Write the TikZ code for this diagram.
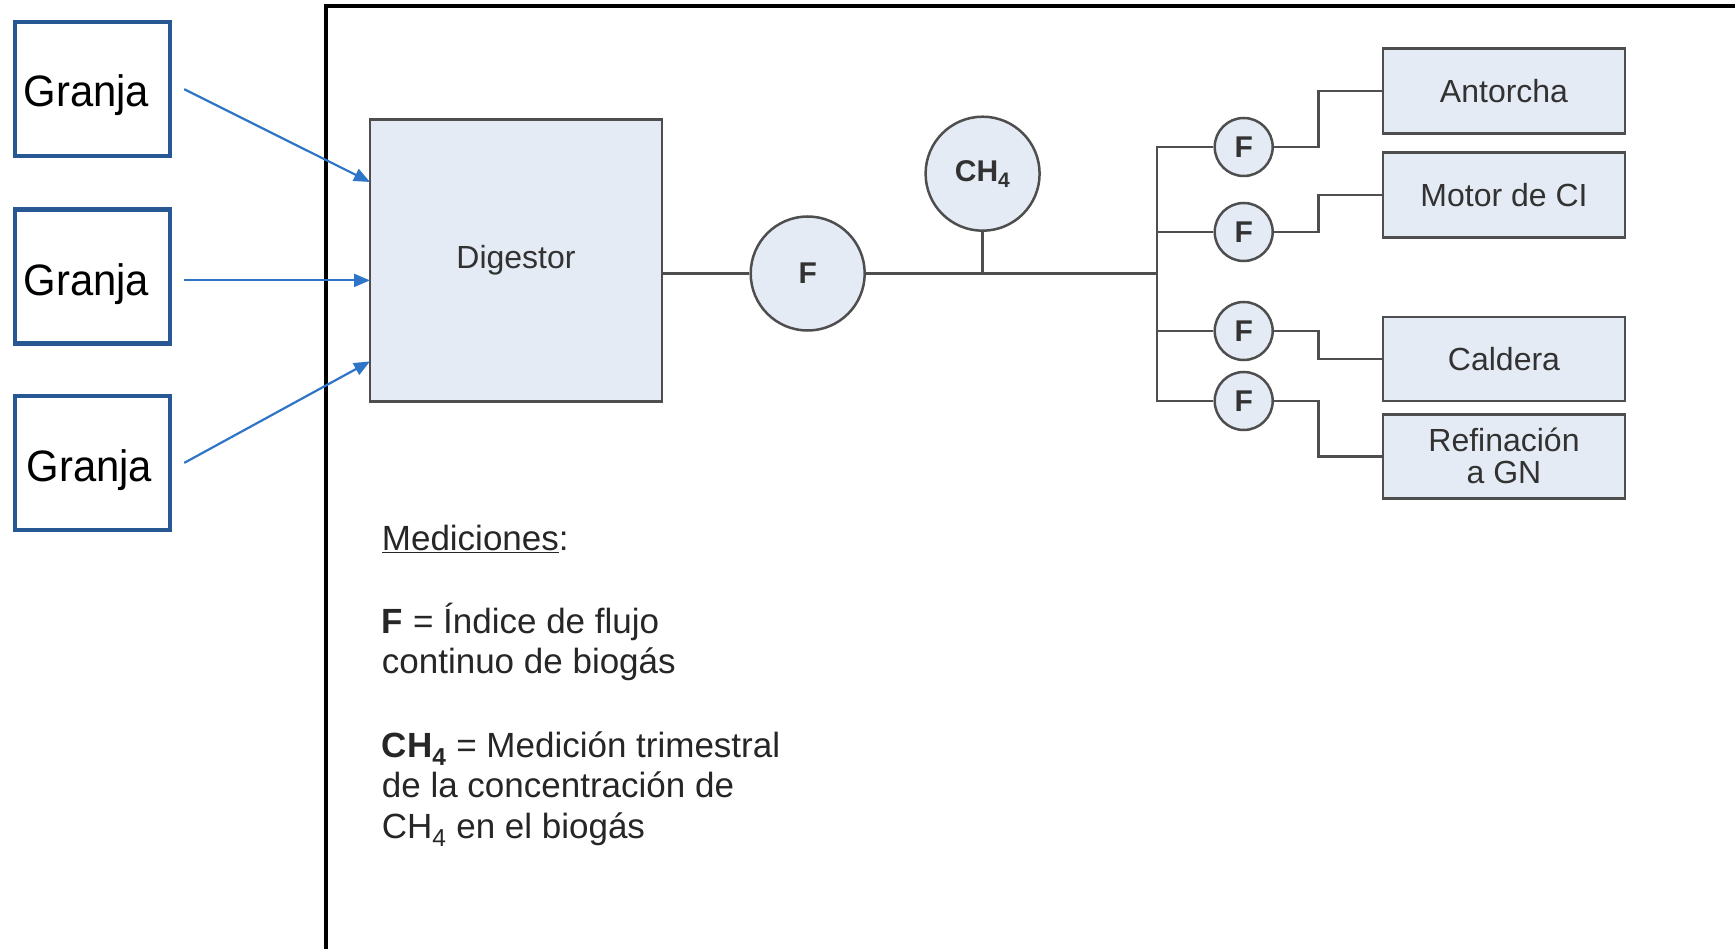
\documentclass[tikz,border=0pt]{standalone}
\usepackage{fontspec}
\setmainfont{Liberation Sans}
\newfontfamily\granjafont[FakeStretch=0.95]{Liberation Sans}
\usetikzlibrary{arrows.meta}
\definecolor{granjab}{RGB}{40,88,148}
\definecolor{arrowb}{RGB}{46,117,200}
\definecolor{boxfill}{RGB}{229,235,245}
\definecolor{boxline}{RGB}{78,78,78}
\definecolor{txt}{RGB}{50,50,50}
\definecolor{legtxt}{RGB}{38,38,38}
\newcommand{\lowtext}[2]{\raisebox{-#1}[\height][\depth]{#2}}
\begin{document}
\begin{tikzpicture}[x=1pt,y=-1pt,
  granja/.style={draw=granjab, line width=4.5pt, minimum width=155pt, minimum height=134pt, inner sep=0pt, text=black, font=\granjafont\fontsize{44}{50}\selectfont},
  unitbox/.style={draw=boxline, fill=boxfill, line width=2.5pt, inner sep=0pt, text=txt, font=\fontsize{32}{34}\selectfont, align=center},
  meter/.style={circle, draw=boxline, fill=boxfill, line width=2.5pt, inner sep=0pt, text=txt, font=\fontsize{30}{32}\selectfont\bfseries},
  pipe/.style={draw=boxline, line width=2.5pt},
  feed/.style={draw=arrowb, line width=2.2pt, -{Triangle[length=16pt,width=13pt]}},
  legend/.style={anchor=base west, inner sep=0pt, text=legtxt, font=\fontsize{35}{40}\selectfont},
  frame/.style={draw=black, line width=4pt}
]
\useasboundingbox (0,0) rectangle (1735,949);
% outer frame (open to the right and bottom)
\draw[frame] (326,949) -- (326,6) -- (1735,6);

% farms
\node[granja] (g1) at (92.5,89.2) {\lowtext{6pt}{Granja}\hspace*{12pt}};
\node[granja] (g2) at (92.5,276.3) {\lowtext{8pt}{Granja}\hspace*{12pt}};
\node[granja] (g3) at (92.5,462.9) {\lowtext{7pt}{Granja}\hspace*{6pt}};

% digestor
\node[unitbox, minimum width=292pt, minimum height=282pt] (dig) at (516,260.7) {Digestor};
\coordinate (d1) at (370,182);
\coordinate (d2) at (370,280.4);
\coordinate (d3) at (370,361.4);

\draw[feed] ([xshift=12pt]g1.east) -- (d1);
\draw[feed] ([xshift=12pt]g2.east |- d2) -- (d2);
\draw[feed] ([xshift=12pt]g3.east) -- (d3);

% meters on the main line
\node[meter, minimum size=114pt] (fm) at (807.7,273.5) {F};
\node[meter, minimum size=114pt] (ch4) at (982.6,173.7) {CH\textsubscript{4}};
\coordinate (bus) at (1157,273.5);

\draw[pipe] (fm.west -| dig.east) -- (fm.west);
\draw[pipe] (fm.east) -- (bus);
\draw[pipe] (ch4.south) -- (ch4.south |- bus);

% branch meters
\node[meter, minimum size=58pt] (f1) at (1243.7,147) {F};
\node[meter, minimum size=58pt] (f2) at (1243.7,232) {F};
\node[meter, minimum size=58pt] (f3) at (1243.7,331) {F};
\node[meter, minimum size=58pt] (f4) at (1243.7,401) {F};

% end uses
\node[unitbox, minimum width=242pt, minimum height=85pt] (b1) at (1504,90.8) {Antorcha};
\node[unitbox, minimum width=242pt, minimum height=85pt] (b2) at (1504,195) {Motor de CI};
\node[unitbox, minimum width=242pt, minimum height=84pt] (b3) at (1504,359) {Caldera};
\node[unitbox, minimum width=242pt, minimum height=84pt] (b4) at (1504,456.3) {Refinación\\[-2pt]a GN};

% bus and branches
\draw[pipe] (f1.west) -- (f1.west -| bus) -- (f4.west -| bus) -- (f4.west);
\draw[pipe] (f2.west) -- (f2.west -| bus);
\draw[pipe] (f3.west) -- (f3.west -| bus);
\coordinate (tx) at (1318.6,0);
\draw[pipe] (f1.east) -- (f1.east -| tx) |- (b1.west);
\draw[pipe] (f2.east) -- (f2.east -| tx) |- (b2.west);
\draw[pipe] (f3.east) -- (f3.east -| tx) |- (b3.west);
\draw[pipe] (f4.east) -- (f4.east -| tx) |- (b4.west);

% legend
\node[legend] (l0) at (381.7,550) {\underline{Mediciones}:};
\node[legend] (l1) at (381.7,633) {\textbf{F} = Índice de flujo};
\node[legend] (l2) at (381.7,673) {continuo de biogás};
\node[legend] (l3) at (381.7,757) {\textbf{CH\textsubscript{4}} = Medición trimestral};
\node[legend] (l4) at (381.7,797) {de la concentración de};
\node[legend] (l5) at (381.7,838) {CH\textsubscript{4} en el biogás};
\end{tikzpicture}
\end{document}
